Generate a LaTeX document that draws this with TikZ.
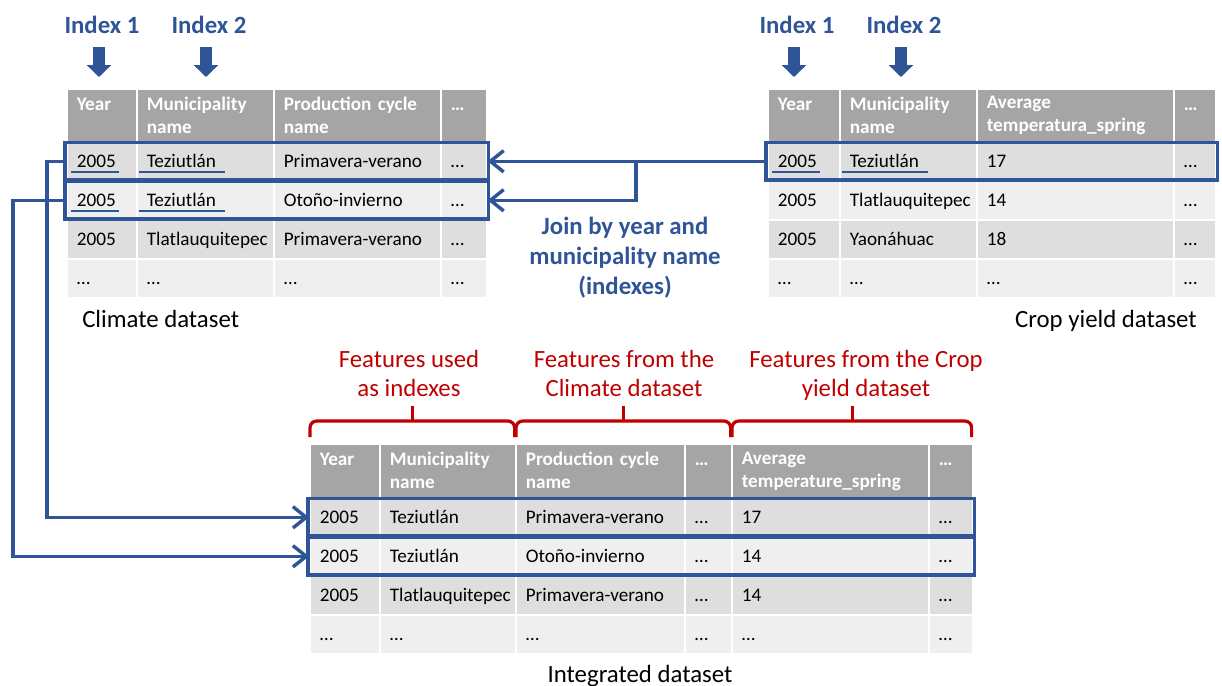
\documentclass[tikz,border=0pt]{standalone}
\usepackage{fontspec}
\setmainfont{Carlito}
\usetikzlibrary{arrows.meta,calc}
\definecolor{jnBlue}{HTML}{2F5597}
\definecolor{jnRed}{HTML}{C00000}
\definecolor{hdGrey}{HTML}{A5A5A5}
\definecolor{rowDark}{HTML}{DEDEDE}
\definecolor{rowLight}{HTML}{EFEFEF}
\hyphenpenalty=10000
\exhyphenpenalty=10000

% one table row: name prefix, top y, cell style, list of x/width/text
\newcommand{\tabrow}[4]{%
  \foreach \x/\w/\txt [count=\c] in {#4}{%
    \pgfmathsetmacro{\tw}{0.75*\w-15}%
    \node[#3,text width=\tw pt] (#1-\c) at (\x,#2) {\txt};}}

\begin{document}
\begin{tikzpicture}[x=0.75pt,y=-0.75pt,
  cell/.style={anchor=north west,draw=white,line width=1.2pt,inner xsep=7.5pt,
    inner ysep=0pt,align=left,font=\fontsize{14.4}{17.3}\selectfont},
  hd/.style={cell,fill=hdGrey,text=white,font=\fontsize{14.4}{17.3}\selectfont\bfseries,
    minimum height=39.75pt,text height=10pt},
  rd/.style={cell,fill=rowDark,minimum height=29.25pt,text height=9.3pt,text depth=0pt},
  rl/.style={rd,fill=rowLight},
  hl/.style={draw=jnBlue,line width=2.6pt},
  ul/.style={draw=jnBlue,line width=1.2pt},
  lnk/.style={draw=jnBlue,line width=2.6pt,-{Straight Barb[length=10pt,width=16pt]}},
  blk/.style={draw=jnBlue,line width=9pt,-{Triangle[length=9pt,width=18pt]}},
  idx/.style={text=jnBlue,font=\fontsize{18.6}{22.5}\selectfont\bfseries,inner sep=0pt},
  dslabel/.style={font=\fontsize{18.6}{22.5}\selectfont,inner sep=0pt},
  ftr/.style={text=jnRed,font=\fontsize{18.6}{21.75}\selectfont,align=center,inner sep=0pt,anchor=north},
  brk/.style={draw=jnRed,line width=2.4pt}
]
\useasboundingbox (0,0) rectangle (1222,686);

% climate table
\tabrow{cl-h}{88}{hd}{66/70/Year\\~, 136/137/Municipality\\name, 273/167/Production cycle\\name, 440/46/…\\~}
\tabrow{cl-1}{141}{rd}{66/70/2005, 136/137/Teziutlán, 273/167/Primavera-verano, 440/46/…}
\tabrow{cl-2}{180}{rl}{66/70/2005, 136/137/Teziutlán, 273/167/Otoño-invierno, 440/46/…}
\tabrow{cl-3}{219}{rd}{66/70/2005, 136/137/Tlatlauquitepec, 273/167/Primavera-verano, 440/46/…}
\tabrow{cl-4}{258}{rl}{66/70/…, 136/137/…, 273/167/…, 440/46/…}

% crop yield table
\tabrow{cy-h}{88}{hd}{767/72/Year\\~, 839/137/Municipality\\name, 976/197/Average\\temperatura\_spring, 1173/42/…\\~}
\tabrow{cy-1}{141}{rd}{767/72/2005, 839/137/Teziutlán, 976/197/17, 1173/42/…}
\tabrow{cy-2}{180}{rl}{767/72/2005, 839/137/Tlatlauquitepec, 976/197/14, 1173/42/…}
\tabrow{cy-3}{219}{rd}{767/72/2005, 839/137/Yaonáhuac, 976/197/18, 1173/42/…}
\tabrow{cy-4}{258}{rl}{767/72/…, 839/137/…, 976/197/…, 1173/42/…}

% integrated table
\tabrow{in-h}{443}{hd,minimum height=40.5pt}{309/70/Year\\~, 379/136/Municipality\\name, 515/169/Production cycle\\name, 684/47/…\\~, 731/197/Average\\temperature\_spring, 928/44/…\\~}
\tabrow{in-1}{497}{rd}{309/70/2005, 379/136/Teziutlán, 515/169/Primavera-verano, 684/47/…, 731/197/17, 928/44/…}
\tabrow{in-2}{536}{rl}{309/70/2005, 379/136/Teziutlán, 515/169/Otoño-invierno, 684/47/…, 731/197/14, 928/44/…}
\tabrow{in-3}{575}{rd}{309/70/2005, 379/136/Tlatlauquitepec, 515/169/Primavera-verano, 684/47/…, 731/197/14, 928/44/…}
\tabrow{in-4}{614}{rl}{309/70/…, 379/136/…, 515/169/…, 684/47/…, 731/197/…, 928/44/…}

% highlighted rows
\foreach \r in {1,2} {
  \draw[hl] ([shift={(-1,1.5)}]cl-\r-1.north west) rectangle ([shift={(1,-1.5)}]cl-\r-4.south east);
  \draw[hl] ([shift={(-1,1.5)}]in-\r-1.north west) rectangle ([shift={(1,-1.5)}]in-\r-6.south east);}
\draw[hl] ([shift={(-1,1.5)}]cy-1-1.north west) rectangle ([shift={(1,-1.5)}]cy-1-4.south east);

% index values underlined
\foreach \n in {cl-1,cl-2,cy-1} {
  \draw[ul] ([shift={(5,-9.5)}]\n-1.south west) -- ++(48,0);
  \draw[ul] ([shift={(3,-9.5)}]\n-2.south west) -- ++(86,0);}

% index labels
\node[idx] (ix-cl-1) at (102,25) {Index 1};
\node[idx] (ix-cl-2) at (209,25) {Index 2};
\node[idx] (ix-cy-1) at (797,25) {Index 1};
\node[idx] (ix-cy-2) at (904,25) {Index 2};
\foreach \i in {cl-1,cl-2,cy-1,cy-2}
  \draw[blk] ($(ix-\i)+(-3,22)$) -- ($(ix-\i |- cl-h-1.north)+(-3,-11)$);

% join
\coordinate (jn) at (636,0);
\draw[lnk] (cy-1-1.west) -- (cl-1-4.east);
\draw[lnk] (jn |- cl-1-4.east) |- (cl-2-4.east);
\node[idx,align=center,anchor=north] (jn-txt) at (625,217) {Join by year and\\municipality name\\(indexes)};

% rows carried down
\coordinate (lane1) at (47,0);
\coordinate (lane2) at (13,0);
\draw[lnk] (cl-1-1.west) -| (lane1 |- in-1-1.west) -- (in-1-1.west);
\draw[lnk] (cl-2-1.west) -| (lane2 |- in-2-1.west) -- (in-2-1.west);

% dataset names
\node[dslabel,anchor=base west] (lb-cl) at (82,327) {Climate dataset};
\node[dslabel,anchor=base east] (lb-cy) at (1197,327) {Crop yield dataset};
\node[dslabel,anchor=base] (lb-in) at (640,682) {Integrated dataset};

% feature groups
\node[ftr] (ft-1) at (409,350) {Features used\\as indexes};
\node[ftr] (ft-2) at (624,350) {Features from the\\Climate dataset};
\node[ftr] (ft-3) at (866,350) {Features from the Crop\\yield dataset};
\foreach \a/\b in {in-h-1/in-h-2,in-h-3/in-h-4,in-h-5/in-h-6} {
  \draw[brk,rounded corners=5] ($(\a.north west)+(1,-6)$) |- ($(\a.north west)!.5!(\b.north east)+(0,-22)$)
    -| ($(\b.north east)+(-2,-6)$);
  \draw[brk] ($(\a.north west)!.5!(\b.north east)+(0,-22)$) -- ++(0,-15);}
\end{tikzpicture}
\end{document}
